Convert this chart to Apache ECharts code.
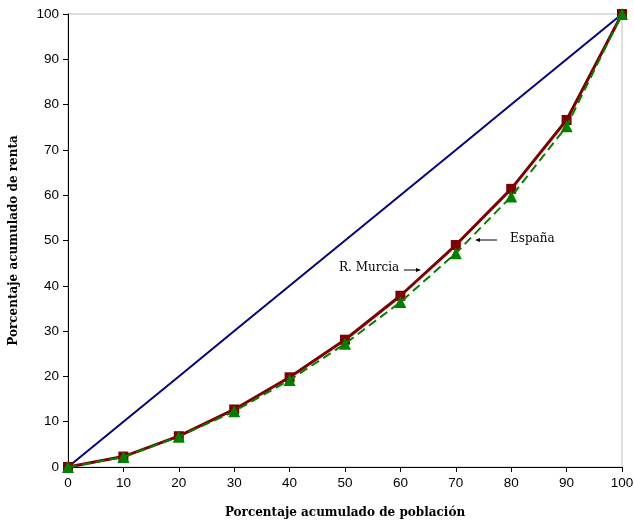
<!DOCTYPE html>
<html>
<head>
<meta charset="utf-8">
<script src="https://cdn.jsdelivr.net/npm/echarts@6/dist/echarts.min.js"></script>
<style>
  html, body { margin: 0; padding: 0; background: #fff; }
  #chart { width: 634px; height: 520px; }
</style>
</head>
<body>
<div id="chart"></div>
<script>
const poblacion = [0, 10, 20, 30, 40, 50, 60, 70, 80, 90, 100]
const igualdad = [0, 10, 20, 30, 40, 50, 60, 70, 80, 90, 100]
const murcia = [0, 2.3, 6.8, 12.7, 19.8, 28.1, 37.8, 49.0, 61.4, 76.6, 100]
const espana = [0, 2.2, 6.7, 12.3, 19.2, 27.2, 36.4, 47.2, 59.7, 75.2, 100]

const pairs = (ys) => poblacion.map((x, i) => [x, ys[i]])

const chart = echarts.init(document.getElementById('chart'))

const option = {
  animation: false,
  grid: {
    left: 68, right: 12, top: 14, bottom: 53,
    outerBoundsMode: 'none',
    containLabel: false,
    show: true,
    borderColor: '#bdbdbd',
    borderWidth: 1
  },
  xAxis: {
    type: 'value',
    min: 0, max: 100, interval: 10,
    name: 'Porcentaje acumulado de población',
    nameLocation: 'middle',
    nameGap: 40,
    nameTextStyle: { fontFamily: 'DejaVu Serif', fontWeight: 'bold', fontSize: 12, color: '#000' },
    axisLine: { lineStyle: { color: '#000', width: 1 } },
    axisTick: { show: true, length: 5, lineStyle: { color: '#000' } },
    axisLabel: { fontFamily: 'Liberation Sans', fontSize: 13.5, color: '#000', margin: 9 },
    splitLine: { show: false }
  },
  yAxis: {
    type: 'value',
    min: 0, max: 100, interval: 10,
    name: 'Porcentaje acumulado de renta',
    nameLocation: 'middle',
    nameGap: 48,
    nameTextStyle: { fontFamily: 'DejaVu Serif', fontWeight: 'bold', fontSize: 12, color: '#000' },
    axisLine: { show: true, lineStyle: { color: '#000', width: 1 } },
    axisTick: { show: true, length: 5, lineStyle: { color: '#000' } },
    axisLabel: { fontFamily: 'Liberation Sans', fontSize: 13.5, color: '#000', margin: 9 },
    splitLine: { show: false }
  },
  series: [
    {
      name: 'Igualdad',
      type: 'line',
      data: pairs(igualdad),
      showSymbol: false,
      lineStyle: { color: '#000080', width: 2 },
      z: 1
    },
    {
      name: 'R. Murcia',
      type: 'line',
      data: pairs(murcia),
      symbol: 'rect',
      symbolSize: 10,
      itemStyle: { color: '#800000' },
      lineStyle: { color: '#800000', width: 3 },
      z: 2
    },
    {
      name: 'España',
      type: 'line',
      data: pairs(espana),
      symbol: 'triangle',
      symbolSize: 12,
      itemStyle: { color: '#008000' },
      lineStyle: { color: '#008000', width: 2, type: [9, 5] },
      z: 3
    }
  ],
  graphic: [
    {
      type: 'text', left: 510, top: 233,
      style: { text: 'España', fontFamily: 'DejaVu Serif', fontSize: 12, fill: '#000' }
    },
    {
      type: 'line', shape: { x1: 497, y1: 240, x2: 477, y2: 240 },
      style: { stroke: '#000', lineWidth: 1 }
    },
    {
      type: 'polygon', shape: { points: [[475, 240], [480, 238], [480, 242]] },
      style: { fill: '#000' }
    },
    {
      type: 'text', left: 339, top: 262,
      style: { text: 'R. Murcia', fontFamily: 'DejaVu Serif', fontSize: 12, fill: '#000' }
    },
    {
      type: 'line', shape: { x1: 404, y1: 270, x2: 419, y2: 270 },
      style: { stroke: '#000', lineWidth: 1 }
    },
    {
      type: 'polygon', shape: { points: [[421, 270], [416, 268], [416, 272]] },
      style: { fill: '#000' }
    }
  ]
}

chart.setOption(option)
</script>
</body>
</html>
